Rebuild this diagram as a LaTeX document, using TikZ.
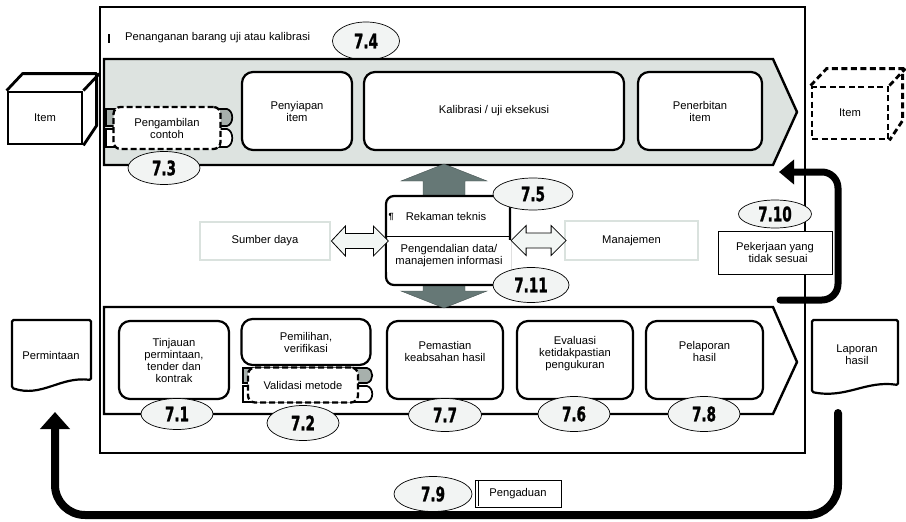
\documentclass[tikz,border=0pt]{standalone}
\usepackage{fontspec}
\setmainfont{Liberation Sans}
\newfontfamily\numfont[BoldFeatures={FakeBold=1.6}]{DejaVu Sans}
\usetikzlibrary{shapes.geometric,arrows.meta,calc}
\definecolor{bandgrey}{HTML}{DDE3E0}
\definecolor{tabgrey}{HTML}{A7B0AC}
\definecolor{arrgrey}{HTML}{667876}
\definecolor{ellfill}{HTML}{F2F4F3}
\definecolor{softedge}{HTML}{DAE2DE}
\definecolor{dblfill}{HTML}{F2F6F4}
\newcommand{\numlbl}[1]{\scalebox{0.68}[1]{\numfont\bfseries\fontsize{20}{20}\selectfont #1}}
\begin{document}
\begin{tikzpicture}[x=1pt,y=-1pt,
  every node/.style={font=\fontsize{11.2}{12}\selectfont},
  procbox/.style={draw, line width=2.2pt, rounded corners=11pt, fill=white, align=center, inner sep=0pt},
  dashbox/.style={draw, line width=2.3pt, dash pattern=on 6pt off 3pt, rounded corners=7pt, fill=white, align=center, inner sep=0pt},
  numell/.style={ellipse, draw, line width=0.7pt, fill=ellfill, inner sep=0pt},
  softbox/.style={draw=softedge, line width=2.8pt, fill=white, inner sep=0pt},
  thinbox/.style={draw, line width=1pt, fill=white, align=center, inner sep=0pt},
  dblarrow/.style={draw, line width=0.8pt, fill=dblfill, line join=miter},
  tabshape/.style={draw, line width=1.7pt},
  bandline/.style={line width=2.4pt, line join=miter},
  txt/.style={align=center, inner sep=0pt}
]
\useasboundingbox (0,0) rectangle (906,522);

% outer frame
\draw[line width=2.4pt] (100,7) rectangle (805,453);
\draw[line width=1.6pt] (109,34) -- (109,43);
\node[anchor=base west, inner sep=0pt] (title) at (125,40) {Penanganan barang uji atau kalibrasi};

% 7.4 (under the band)
\node[numell, minimum width=67pt, minimum height=38pt] (n74) at (366,41) {\numlbl{7.4}};

% top band
\draw[bandline, fill=bandgrey] (104,59) -- (773,59) -- (797,112) -- (773,165) -- (104,165) -- cycle;

% tabs behind Pengambilan contoh
\draw[tabshape, fill=tabgrey] (106,109) -- (227,109) .. controls (234,111) and (234,124) .. (227,126) -- (106,126) -- cycle;
\draw[tabshape, fill=white] (106,129) -- (227,129) .. controls (234,131) and (234,145) .. (227,147) -- (106,147) -- cycle;
\node[dashbox, minimum width=107pt, minimum height=42pt] (samp) at (167,128) {Pengambilan\\contoh};

\node[procbox, minimum width=110pt, minimum height=78pt] (prep) at (297,111) {Penyiapan\\item};
\node[procbox, minimum width=260pt, minimum height=78pt] (exec) at (494,111) {Kalibrasi / uji eksekusi};
\node[procbox, minimum width=124pt, minimum height=78pt] (issue) at (700,111) {Penerbitan\\item};

\node[numell, minimum width=72pt, minimum height=33pt] (n73) at (164,168) {\numlbl{7.3}};

% left item cube
\node[draw, line width=2.8pt, fill=white, minimum width=74pt, minimum height=52pt, inner sep=0pt] (itemL) at (45,118) {Item};
\draw[line width=2.8pt, line join=round] (itemL.north west) -- ++(16,-17) -- ++(74,0) -- ++(0,52) -- (itemL.south east);
\draw[line width=2.8pt] (itemL.north east) -- ++(16,-17);

% right item cube (dashed)
\node[draw, line width=2.8pt, dash pattern=on 6pt off 3.5pt, minimum width=76pt, minimum height=52pt, inner sep=0pt] (itemR) at (850,113) {Item};
\draw[line width=2.8pt, dash pattern=on 6pt off 3.5pt] (itemR.north west) -- ++(16,-17) -- ++(76,0) -- ++(0,52) -- (itemR.south east);
\draw[line width=2.8pt, dash pattern=on 6pt off 3.5pt] (itemR.north east) -- ++(16,-17);

% bottom band
\draw[bandline, fill=white] (104,307) -- (773,307) -- (797,362) -- (773,414) -- (104,414) -- cycle;

% grey arrows up / down
\fill[arrgrey, draw=arrgrey!70!black, line width=0.4pt] (423,197) -- (423,181) -- (401,181) -- (444,164) -- (487,181) -- (465,181) -- (465,197) -- cycle;
\fill[arrgrey, draw=arrgrey!70!black, line width=0.4pt] (423,284) -- (423,291) -- (401,291) -- (444,308) -- (487,291) -- (465,291) -- (465,284) -- cycle;

% centre box
\node[procbox, rounded corners=8pt, minimum width=124pt, minimum height=89pt] (ctr) at (448,240.5) {};
\draw[line width=0.8pt] (387,236) -- (510,236);
\node[inner sep=0pt] (rek) at (446,216) {Rekaman teknis};
\node[inner sep=0pt, font=\fontsize{9}{9}\selectfont\bfseries] (pil) at (391,217) {¶};
\node[fill=white, txt, minimum width=124pt, minimum height=32pt] (peng) at (449,256) {Pengendalian data/\\manajemen informasi};

\node[numell, minimum width=80pt, minimum height=32pt] (n75) at (533,194) {\numlbl{7.5}};
\node[numell, minimum width=76pt, minimum height=35pt] (n711) at (531,285) {\numlbl{7.11}};

% resources / management
\node[softbox, minimum width=130pt, minimum height=38pt] (res) at (265,241) {Sumber daya};
\node[softbox, minimum width=133pt, minimum height=39pt] (man) at (631.5,240.5) {Manajemen};

\draw[dblarrow] (res.east) -- ++(14,-15) -- ++(0,7.5) -- ++(28,0) -- ++(0,-7.5) -- ++(15,15) -- ++(-15,15) -- ++(0,-7.5) -- ++(-28,0) -- ++(0,7.5) -- cycle;
\draw[dblarrow] (ctr.east) -- ++(15,-15) -- ++(0,7.5) -- ++(25,0) -- ++(0,-7.5) -- ++(15,15) -- ++(-15,15) -- ++(0,-7.5) -- ++(-25,0) -- ++(0,7.5) -- cycle;

% nonconforming work
\node[numell, minimum width=73pt, minimum height=28pt] (n710) at (775,214) {\numlbl{7.10}};
\node[thinbox, minimum width=114pt, minimum height=43pt] (ncw) at (775,252.5) {Pekerjaan yang\\\ \ tidak sesuai};

% bottom process boxes
\node[procbox, minimum width=110pt, minimum height=78pt] (rev) at (174,360) {Tinjauan\\permintaan,\\tender dan\\kontrak};
\node[procbox, minimum width=129pt, minimum height=46pt] (sel) at (306,342) {Pemilihan,\\verifikasi};
\draw[tabshape, fill=tabgrey] (243,368) -- (367,368) .. controls (374,370) and (374,381) .. (367,383) -- (243,383) -- cycle;
\draw[tabshape, fill=white] (243,386) -- (367,386) .. controls (374,388) and (374,400) .. (367,402) -- (243,402) -- cycle;
\node[dashbox, minimum width=110pt, minimum height=35pt] (val) at (303,385) {Validasi metode};

\node[procbox, minimum width=116pt, minimum height=78pt] (vald) at (445,360) {};
\node[txt] (valdt) at (445,351) {Pemastian\\keabsahan hasil};
\node[procbox, minimum width=116pt, minimum height=78pt] (unc) at (575,360) {};
\node[txt] (unct) at (575,354) {Evaluasi\\ketidakpastian\\pengukuran};
\node[procbox, minimum width=117pt, minimum height=78pt] (rep) at (704.5,360) {};
\node[txt] (rept) at (704.5,351) {Pelaporan\\hasil};

\node[numell, minimum width=72pt, minimum height=31pt] (n71) at (177,414) {\numlbl{7.1}};
\node[numell, minimum width=72pt, minimum height=35pt] (n72) at (303,423) {\numlbl{7.2}};
\node[numell, minimum width=73pt, minimum height=33pt] (n77) at (445,415) {\numlbl{7.7}};
\node[numell, minimum width=72pt, minimum height=35pt] (n76) at (574,414) {\numlbl{7.6}};
\node[numell, minimum width=72pt, minimum height=35pt] (n78) at (704,414) {\numlbl{7.8}};

% documents
\draw[line width=2.2pt, fill=white, rounded corners=1.5pt] (12,388) -- (12,320) -- (91,320) -- (91,380) .. controls (60,376) and (42,398) .. (12,388) -- cycle;
\node[txt] (perm) at (51,355) {Permintaan};
\draw[line width=2.2pt, fill=white, rounded corners=1.5pt] (812,392) -- (812,320) -- (898,320) -- (898,385) .. controls (866,380) and (846,399) .. (812,392) -- cycle;
\node[txt] (lap) at (857,355) {Laporan\\hasil};

% complaints
\node[numell, minimum width=78pt, minimum height=35pt] (n79) at (433,494) {\numlbl{7.9}};
\node[thinbox, minimum width=86pt, minimum height=27pt] (comp) at (518,493.5) {Pengaduan};
\draw[line width=0.8pt] (478,481) -- (478,506);

% heavy loop arrows
\coordinate (ncstart) at (780,300);
\coordinate (ncend) at (779,172);
\draw[line width=7pt, line cap=round, rounded corners=16pt, -{Triangle[length=15pt,width=24pt]}] (ncstart) -- (838,300) -- (838,172) -- (ncend);
\coordinate (lapout) at (838,413);
\coordinate (permin) at (55,412);
\draw[line width=8pt, line cap=round, rounded corners=30pt, -{Triangle[length=17pt,width=29pt]}] (lapout) -- (838,515) -- (55,515) -- (permin);
\end{tikzpicture}
\end{document}
